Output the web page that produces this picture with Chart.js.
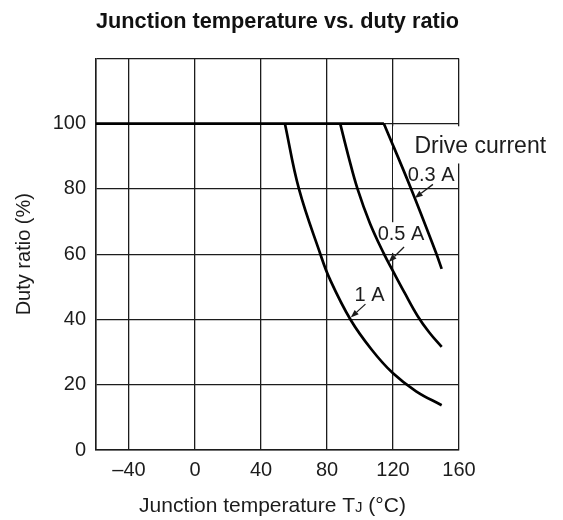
<!DOCTYPE html>
<html>
<head>
<meta charset="utf-8">
<script src="https://cdn.jsdelivr.net/npm/chart.js@4/dist/chart.umd.min.js"></script>
<style>
html, body { margin: 0; padding: 0; background: #fff; }
#wrap { width: 563px; height: 520px; }
</style>
</head>
<body>
<div id="wrap"><canvas id="chart" width="563" height="520"></canvas></div>
<script>
// duty ratio (%) vs junction temperature (°C)
const tempFull = [-60, 114.5];
const dutyFull = [100, 100];

const temp03 = [114.5, 131, 146, 149.5];
const duty03 = [100, 80, 60.5, 55.5];

const temp05 = [88, 93, 98.5, 106, 114.6, 120, 127, 135, 142, 149.5];
const duty05 = [100, 90, 80, 69.5, 60, 54.8, 48.2, 41, 36, 31.6];

const temp1 = [54.5, 63, 76, 81.6, 94.2, 107, 120, 134, 149.5];
const duty1 = [100, 80, 60, 52.5, 40, 30.8, 23.5, 18, 13.7];

const xTicks = [-40, 0, 40, 80, 120, 160];
const yTicks = [0, 20, 40, 60, 80, 100];

// labels on the plot (data units)
const noteText = ['Drive current', '0.3 A', '0.5 A', '1 A'];
const noteTemp = [133, 129, 110.7, 96.7];
const noteDuty = [91, 82.5, 64.2, 45.7];

// arrows: tail -> tip
const arrowFromT = [144.2, 126.7, 103.3];
const arrowFromD = [81.4, 62.2, 44.7];
const arrowToT = [133.2, 117.4, 94.4];
const arrowToD = [77.2, 57.6, 40.6];

// white patches behind the labels (hide grid lines there)
const maskBoxes = [
    [120, 178, 99.2, 87.8],
    [120, 156, 87.8, 80.6],
    [109.5, 141, 69.8, 60.4]
];

const pts = (xs, ys) => xs.map((v, i) => ({x: v, y: ys[i]}));
const minus = v => (v < 0 ? '\u2013' + Math.abs(v) : String(v));
const FONT = '"Liberation Sans", Arial, Helvetica, sans-serif';
const INK = '#1c1c1c';

const notes = {
    id: 'notes',
    beforeDatasetsDraw(chart) {
        const {ctx, scales: {x, y}} = chart;
        ctx.save();
        ctx.fillStyle = '#fff';
        maskBoxes.forEach(b => {
            const x0 = x.getPixelForValue(b[0]), x1 = x.getPixelForValue(b[1]);
            const y0 = y.getPixelForValue(b[2]), y1 = y.getPixelForValue(b[3]);
            ctx.fillRect(x0, y0, x1 - x0, y1 - y0);
        });
        ctx.restore();
    },
    afterDatasetsDraw(chart) {
        const {ctx, scales: {x, y}} = chart;
        ctx.save();
        ctx.fillStyle = INK;
        ctx.textBaseline = 'alphabetic';
        ctx.textAlign = 'left';
        noteText.forEach((t, i) => {
            ctx.font = (i === 0 ? '23px ' : '20px ') + FONT;
            ctx.fillText(t, x.getPixelForValue(noteTemp[i]), y.getPixelForValue(noteDuty[i]));
        });
        // arrows
        ctx.strokeStyle = INK;
        ctx.lineWidth = 1.3;
        arrowFromT.forEach((t, i) => {
            const x0 = x.getPixelForValue(t), y0 = y.getPixelForValue(arrowFromD[i]);
            const x1 = x.getPixelForValue(arrowToT[i]), y1 = y.getPixelForValue(arrowToD[i]);
            const a = Math.atan2(y1 - y0, x1 - x0);
            const len = 8, half = 3;
            const bx = x1 - len * Math.cos(a), by = y1 - len * Math.sin(a);
            ctx.beginPath();
            ctx.moveTo(x0, y0);
            ctx.lineTo(bx, by);
            ctx.stroke();
            ctx.beginPath();
            ctx.moveTo(x1, y1);
            ctx.lineTo(bx + half * Math.sin(a), by - half * Math.cos(a));
            ctx.lineTo(bx - half * Math.sin(a), by + half * Math.cos(a));
            ctx.closePath();
            ctx.fill();
        });
        ctx.restore();
    },
    afterDraw(chart) {
        // x axis title with the small "J" of T_J
        const {ctx, chartArea} = chart;
        const parts = [['Junction temperature T', 21], ['J', 15], [' (\u00b0C)', 21]];
        ctx.save();
        ctx.fillStyle = INK;
        ctx.textBaseline = 'alphabetic';
        ctx.textAlign = 'left';
        let w = 0;
        parts.forEach(p => { ctx.font = p[1] + 'px ' + FONT; w += ctx.measureText(p[0]).width; });
        let cx = (chartArea.left + chartArea.right) / 2 - 5 - w / 2;
        parts.forEach(p => {
            ctx.font = p[1] + 'px ' + FONT;
            ctx.fillText(p[0], cx, chartArea.bottom + 62);
            cx += ctx.measureText(p[0]).width;
        });
        ctx.restore();
    }
};

const lineStyle = {
    showLine: true,
    borderColor: '#000',
    borderWidth: 2.7,
    pointRadius: 0,
    fill: false
};

new Chart(document.getElementById('chart'), {
    type: 'scatter',
    data: {
        datasets: [
            {label: '100 %', data: pts(tempFull, dutyFull), ...lineStyle, tension: 0},
            {label: '0.3 A', data: pts(temp03, duty03), ...lineStyle, tension: 0.4},
            {label: '0.5 A', data: pts(temp05, duty05), ...lineStyle, tension: 0.4},
            {label: '1 A', data: pts(temp1, duty1), ...lineStyle, tension: 0.4}
        ]
    },
    options: {
        responsive: false,
        animation: false,
        events: [],
        layout: { padding: { right: 104 } },
        plugins: {
            legend: { display: false },
            tooltip: { enabled: false },
            title: {
                display: true,
                text: 'Junction temperature vs. duty ratio',
                fullSize: false,
                color: '#111',
                font: { family: FONT, size: 22, weight: 'bold' },
                padding: { top: 9, bottom: 23 }
            }
        },
        scales: {
            x: {
                type: 'linear',
                min: -60,
                max: 160,
                afterBuildTicks: s => { s.ticks = [-60, ...xTicks].map(v => ({value: v})); },
                afterFit: s => { s.height = 70; },
                grid: { color: INK, lineWidth: 1.3, drawTicks: false },
                border: { display: true, color: INK, width: 1.5 },
                ticks: {
                    color: INK,
                    padding: 8,
                    maxRotation: 0,
                    autoSkip: false,
                    font: { family: FONT, size: 20 },
                    callback: v => (xTicks.includes(v) ? minus(v) : '')
                }
            },
            y: {
                min: 0,
                max: 120,
                afterBuildTicks: s => { s.ticks = [...yTicks, 120].map(v => ({value: v})); },
                afterFit: s => { s.width = 96; },
                grid: { color: INK, lineWidth: 1.3, drawTicks: false },
                border: { display: true, color: INK, width: 1.5 },
                title: {
                    display: true,
                    text: 'Duty ratio (%)',
                    color: INK,
                    font: { family: FONT, size: 20 },
                    padding: { top: 12, bottom: 0 }
                },
                ticks: {
                    color: INK,
                    padding: 10,
                    font: { family: FONT, size: 20 },
                    callback: v => (yTicks.includes(v) ? String(v) : '')
                }
            }
        }
    },
    plugins: [notes]
});
</script>
</body>
</html>
